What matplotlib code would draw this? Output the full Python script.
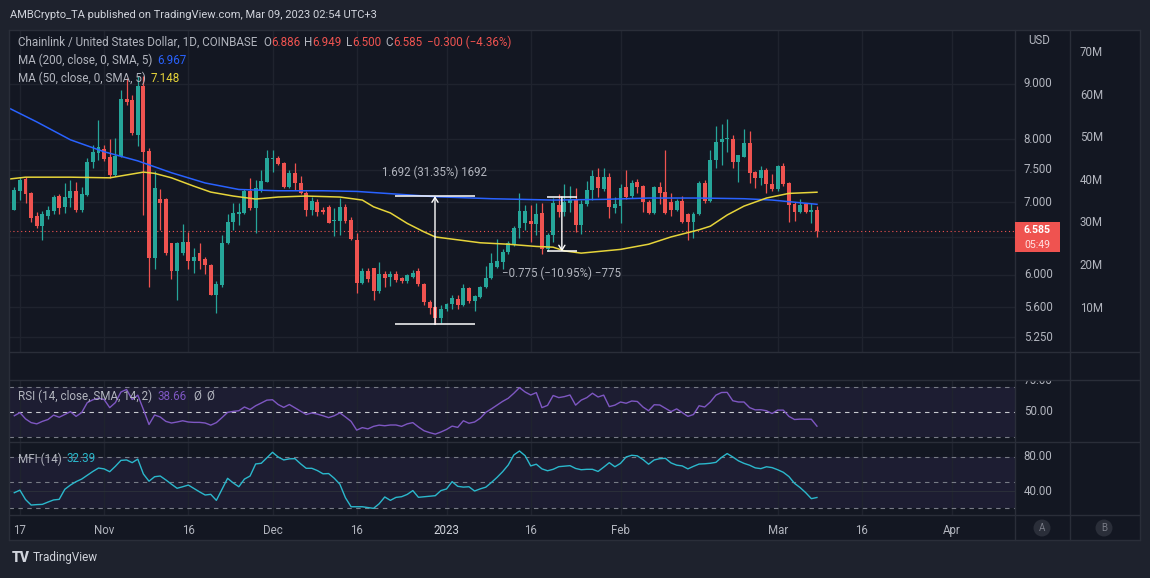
import matplotlib
matplotlib.use("Agg")
import matplotlib.pyplot as plt
import matplotlib.dates as mdates
from matplotlib.lines import Line2D
from matplotlib.patches import Rectangle, Ellipse
from matplotlib.ticker import NullLocator
import pandas as pd

plt.rcParams['font.family'] = ['Roboto', 'DejaVu Sans']

# ---------------- data ----------------
start = "2022-10-16"

opens = [6.88, 7.16, 7.35, 7.13, 6.80, 6.65, 6.80, 6.87, 7.09, 6.93,
         7.06, 7.16, 6.88, 7.10, 7.63, 7.77, 7.83, 7.70, 7.42, 7.72,
         8.72, 8.70, 8.08, 8.95, 7.80, 6.21, 7.05, 7.04, 6.41, 6.05,
         6.28, 6.43, 6.17, 6.28, 6.20, 6.13, 5.75, 5.87, 6.41, 6.71,
         6.83, 6.84, 7.16, 6.91, 7.16, 7.31, 7.67, 7.69, 7.61, 7.23,
         7.44, 7.29, 7.13, 6.88, 7.00, 6.88, 6.93, 6.72, 6.72, 6.93,
         6.74, 6.46, 5.89, 6.04, 6.08, 5.79, 6.01, 5.97, 6.01, 5.96,
         5.92, 5.97, 6.04, 5.88, 5.66, 5.60, 5.47, 5.58, 5.64, 5.70,
         5.62, 5.83, 5.67, 5.72, 5.84, 5.96, 6.10, 6.16, 6.29, 6.40,
         6.62, 6.70, 6.72, 6.68, 6.84, 6.33, 6.53, 6.96, 6.85, 6.99,
         7.03, 6.66, 6.97, 7.18, 7.38, 7.20, 7.38, 6.91, 6.94, 7.23,
         7.09, 7.30, 7.24, 7.00, 6.84, 7.23, 7.15, 7.00, 6.88, 7.01,
         6.82, 6.71, 6.82, 7.29, 7.01, 7.65, 7.96, 8.00, 8.01, 7.62,
         7.71, 7.93, 7.46, 7.37, 7.50, 7.28, 7.20, 7.55, 7.29, 6.97,
         6.85, 6.97, 6.85, 6.886]
highs = [7.22, 7.39, 7.38, 7.15, 6.85, 6.87, 6.94, 7.10, 7.12, 7.29,
         7.34, 7.30, 7.23, 7.68, 7.91, 8.33, 7.91, 8.00, 8.02, 8.89,
         9.12, 8.78, 9.16, 9.16, 7.86, 7.48, 7.20, 7.06, 6.42, 6.43,
         6.68, 6.57, 6.35, 6.41, 6.23, 6.14, 5.92, 6.52, 6.82, 6.99,
         6.99, 7.20, 7.37, 7.33, 7.50, 7.82, 7.82, 7.72, 7.62, 7.50,
         7.60, 7.40, 7.16, 7.08, 7.05, 6.92, 6.95, 6.91, 7.06, 6.97,
         6.78, 6.56, 6.08, 6.09, 6.09, 6.16, 6.05, 6.05, 6.04, 5.97,
         6.01, 6.06, 6.08, 5.90, 5.69, 5.61, 5.62, 5.65, 5.74, 5.74,
         5.88, 5.85, 5.74, 5.86, 6.11, 6.28, 6.47, 6.34, 6.44, 6.65,
         7.13, 6.96, 6.96, 6.99, 6.99, 6.55, 7.06, 7.12, 7.27, 7.24,
         7.21, 7.03, 7.32, 7.50, 7.53, 7.52, 7.44, 7.08, 7.28, 7.49,
         7.34, 7.35, 7.26, 7.03, 7.25, 7.30, 7.82, 7.14, 7.04, 7.09,
         6.84, 6.85, 7.32, 7.33, 7.82, 8.22, 8.26, 8.36, 8.07, 7.74,
         8.17, 8.14, 7.48, 7.55, 7.52, 7.43, 7.57, 7.60, 7.30, 7.00,
         7.04, 6.99, 6.99, 6.949]
lows = [6.88, 7.03, 6.99, 6.71, 6.62, 6.46, 6.75, 6.82, 6.82, 6.84,
        6.93, 6.85, 6.85, 7.09, 7.52, 7.65, 7.64, 7.37, 7.40, 7.70,
        8.60, 8.08, 7.89, 6.81, 5.85, 6.07, 6.60, 6.25, 5.95, 5.69,
        6.25, 6.07, 6.02, 6.07, 6.01, 5.74, 5.53, 5.85, 6.40, 6.60,
        6.67, 6.82, 6.88, 6.56, 7.15, 7.30, 7.46, 7.58, 7.21, 7.21,
        7.18, 7.12, 6.79, 6.81, 6.80, 6.83, 6.69, 6.51, 6.52, 6.69,
        6.46, 5.77, 5.88, 5.91, 5.69, 5.77, 5.85, 5.86, 5.91, 5.90,
        5.90, 5.96, 5.86, 5.63, 5.52, 5.40, 5.41, 5.55, 5.58, 5.58,
        5.61, 5.65, 5.55, 5.71, 5.83, 5.95, 6.09, 6.07, 6.27, 6.38,
        6.48, 6.60, 6.43, 6.52, 6.27, 6.31, 6.43, 6.78, 6.80, 6.85,
        6.57, 6.54, 6.94, 7.03, 7.08, 7.16, 6.77, 6.84, 6.70, 7.05,
        7.06, 7.14, 6.85, 6.82, 6.82, 6.97, 6.82, 6.80, 6.87, 6.69,
        6.46, 6.48, 6.81, 6.98, 7.00, 7.52, 7.58, 7.78, 7.52, 7.30,
        7.70, 7.29, 7.21, 7.26, 7.14, 7.17, 7.17, 7.24, 6.71, 6.72,
        6.84, 6.84, 6.70, 6.500]
closes = [7.18, 7.34, 7.12, 6.77, 6.65, 6.82, 6.88, 7.07, 6.91, 7.07,
          7.16, 6.88, 7.12, 7.63, 7.78, 7.87, 7.67, 7.42, 7.72, 8.72,
          8.66, 8.10, 8.95, 7.79, 6.21, 7.21, 6.98, 6.28, 6.05, 6.41,
          6.43, 6.17, 6.23, 6.17, 6.12, 5.75, 5.88, 6.41, 6.71, 6.84,
          6.86, 7.16, 6.91, 7.21, 7.32, 7.68, 7.69, 7.59, 7.23, 7.45,
          7.29, 7.14, 6.88, 7.01, 6.86, 6.85, 6.70, 6.74, 6.93, 6.72,
          6.47, 5.89, 6.04, 5.95, 5.79, 6.01, 5.96, 6.01, 5.93, 5.92,
          6.00, 6.02, 5.88, 5.66, 5.59, 5.47, 5.58, 5.64, 5.71, 5.62,
          5.83, 5.67, 5.73, 5.84, 5.96, 6.15, 6.17, 6.30, 6.41, 6.63,
          6.87, 6.87, 6.68, 6.82, 6.34, 6.53, 6.98, 6.85, 7.00, 7.03,
          6.66, 6.97, 7.18, 7.40, 7.21, 7.38, 6.93, 6.97, 7.21, 7.07,
          7.29, 7.23, 7.00, 6.84, 7.23, 7.13, 6.84, 6.88, 7.01, 6.71,
          6.71, 6.82, 7.29, 7.01, 7.65, 7.96, 8.01, 8.02, 7.63, 7.73,
          7.93, 7.45, 7.37, 7.50, 7.28, 7.20, 7.55, 7.28, 6.96, 6.85,
          6.96, 6.85, 6.885, 6.585]

# moving averages (day offset from start, value)
ma200_day = [-1, 4, 10, 16, 22, 28, 34, 40, 47, 55, 61, 68, 75, 85, 96,
             105, 113, 122, 130, 135, 140, 143]
ma200_val = [8.55, 8.30, 7.99, 7.79, 7.64, 7.45, 7.29, 7.19, 7.17, 7.17,
             7.16, 7.12, 7.08, 7.05, 7.03, 7.04, 7.06, 7.06, 7.05, 7.03,
             6.99, 6.967]
ma50_day = [-1, 2, 10, 17, 19, 23, 25, 28, 32, 35, 39, 43, 47, 52, 58, 62,
            64, 67, 70, 73, 75, 79, 83, 88, 93, 96, 98, 101, 108, 113, 117,
            122, 124, 127, 130, 134, 138, 143]
ma50_val = [7.35, 7.38, 7.38, 7.37, 7.40, 7.46, 7.44, 7.37, 7.24, 7.15,
            7.09, 7.045, 7.075, 7.09, 7.075, 7.03, 6.93, 6.84, 6.69, 6.57,
            6.50, 6.46, 6.42, 6.40, 6.37, 6.36, 6.31, 6.28, 6.33, 6.40,
            6.50, 6.60, 6.65, 6.81, 6.94, 7.06, 7.13, 7.148]

rsi = [47, 49.5, 44.5, 41.5, 40.5, 42.5, 44, 47.5, 45.8, 48,
       50.3, 46.5, 49.5, 57.5, 59.8, 61, 60, 53.5, 57.5, 66,
       68, 60, 63.5, 52, 40, 47.6, 46, 42.5, 41.2, 42,
       43, 42, 41.7, 41.7, 41.2, 39.5, 41.5, 45.5, 49.7, 50.5,
       51, 54, 52, 55, 57.2, 59.5, 59.8, 56, 53.7, 56,
       53.3, 50.5, 48, 49.2, 48.3, 47, 45.5, 47, 49.3, 46,
       42.5, 35.5, 37.5, 36.5, 38.5, 39.5, 39, 39.6, 39.6, 38.5,
       40.5, 41.5, 38, 35, 33.5, 32.3, 34, 36, 38.7, 37.7,
       43, 41, 42, 45, 49.7, 52.5, 55.5, 58.5, 61, 65,
       69.5, 66, 63.6, 65.5, 53.5, 55.3, 63.2, 61.5, 62.3, 63.6,
       55.5, 59.5, 61.5, 65, 62, 63.5, 54.3, 55.5, 58, 57,
       58.8, 58.4, 54, 51, 55.8, 55.6, 53, 50.3, 52.5, 49.5,
       46.5, 48, 55, 54, 58, 63.5, 65.6, 65.7, 59, 58,
       58, 53.5, 51.7, 51.8, 51, 48.8, 51.5, 51.5, 46.5, 44,
       44.3, 44.3, 44.2, 38.66]
mfi = [38, 41, 30, 23.5, 24, 24.3, 27, 29.5, 30.2, 42,
       47, 51, 54, 58.5, 63, 67, 66, 62.7, 69, 76,
       76.5, 73.3, 77.5, 60, 51.5, 56.8, 57.6, 53, 48, 43.2,
       45, 47, 43, 39, 35.3, 36.1, 29, 42, 54.9, 49.5,
       45, 54, 57.6, 71.8, 72.6, 79, 85.5, 80, 76.5, 77.8,
       78, 72, 66.7, 66.7, 64, 60.2, 60.5, 55, 48, 32,
       21.5, 21.5, 21.5, 20.5, 19.6, 25, 33, 29, 32.5, 33.3,
       36, 40.5, 32.6, 33.2, 33.8, 34.5, 40.5, 42.4, 51, 45.5,
       44.6, 45, 40, 42.5, 44.5, 50, 56, 62.7, 70.6, 82.4,
       87, 81.5, 69.5, 71.5, 66, 63.8, 65.5, 68.6, 69.2, 69.8,
       66.5, 65, 65.5, 65.5, 63, 68, 73.3, 68.5, 72.5, 80,
       82, 81.3, 77, 71.5, 76.5, 78, 78.4, 73, 70.4, 69.5,
       66, 69, 71.7, 72, 72.6, 73.7, 79.5, 84, 80, 75.5,
       72.5, 70.3, 67.2, 66.3, 68.5, 67.5, 65, 62, 57, 49,
       44, 38, 31, 32.39]

# price range measurements (day offsets and prices)
rng1_days = [67.8, 82.1]
rng1_prices = [5.397, 7.089]
rng2_days = [94.9, 100.2]
rng2_prices = [7.078, 6.303]

price_ticks = [5.25, 5.6, 6.0, 6.5, 7.0, 7.5, 8.0, 9.0]
price_labels = ["5.250", "5.600", "6.000", "", "7.000", "7.500", "8.000", "9.000"]
vol_ticks = [10, 20, 30, 40, 50, 60, 70]
date_ticks = ["2022-10-17", "2022-11-01", "2022-11-16", "2022-12-01", "2022-12-16",
              "2023-01-01", "2023-01-16", "2023-02-01", "2023-03-01", "2023-03-16",
              "2023-04-01"]
date_labels = ["17", "Nov", "16", "Dec", "16", "2023", "16", "Feb", "Mar", "16", "Apr"]

# ---------------- style ----------------
W, H = 1150, 578
BG_OUT = "#1e222d"
BG = "#131722"
GRID = "#1f232e"
LINE = "#2a2e39"
TXT = "#b2b5be"
UP = "#26a69a"
DN = "#ef5350"
BLUE = "#2962ff"
YEL = "#e6d43a"
RSI_C = "#7e57c2"
MFI_C = "#2bb8cc"
FS = 8.4     # legend text
FS_AX = 8.3  # scale text


def box(x0, y0, x1, y1):
    return [x0 / W, 1 - y1 / H, (x1 - x0) / W, (y1 - y0) / H]


fig = plt.figure(figsize=(W / 100, H / 100), dpi=100, facecolor=BG_OUT)
fig.add_artist(Rectangle((9 / W, 1 - 540 / H), 1131 / W, 510 / H,
                         transform=fig.transFigure, facecolor=BG, lw=0, zorder=-5))

t0 = pd.Timestamp(start)
d0 = mdates.date2num(t0)
xs = [d0 + i for i in range(len(closes))]
xlim = (d0 - 0.944, d0 + 178.28)
tick_x = mdates.date2num(pd.to_datetime(date_ticks))


def pane(y0, y1, share=None):
    ax = fig.add_axes(box(9, y0, 1015, y1), sharex=share)
    ax.set_facecolor(BG)
    for s in ax.spines.values():
        s.set_visible(False)
    ax.tick_params(length=0, labelleft=False, labelbottom=False)
    return ax


ax = pane(30, 352)
ax_gap = pane(352, 380, ax)
ax_rsi = pane(380, 442, ax)
ax_mfi = pane(442, 515, ax)
ax.set_xlim(*xlim)
ax.set_xticks(tick_x)
for a in (ax, ax_rsi, ax_mfi):
    a.grid(axis="x", color=GRID, lw=1)
ax_gap.grid(False)

# main pane
ax.set_yscale("log")
ax.set_ylim(5.09, 10.09)
ax.set_yticks(price_ticks)
ax.yaxis.set_minor_locator(NullLocator())
ax.grid(axis="y", color=GRID, lw=1)
ax.set_yticklabels([])

cols = [UP if c >= o else DN for o, c in zip(opens, closes)]
ax.vlines(xs, lows, highs, colors=cols, lw=0.9, zorder=3)
bottoms = [min(o, c) for o, c in zip(opens, closes)]
heights = [max(abs(c - o), 0.012) for o, c in zip(opens, closes)]
ax.bar(xs, heights, bottom=bottoms, width=0.7, color=cols, lw=0, zorder=4)

ax.plot([d0 + d for d in ma200_day], ma200_val, color=BLUE, lw=1.1, zorder=5)
ax.plot([d0 + d for d in ma50_day], ma50_val, color=YEL, lw=1.1, zorder=5)
ax.axhline(closes[-1], color=DN, lw=0.8, ls=(0, (1, 2.5)), zorder=2)

# measurement tools
for days, prices in ((rng1_days, rng1_prices), (rng2_days, rng2_prices)):
    a0, a1 = d0 + days[0], d0 + days[1]
    mid = (a0 + a1) / 2
    for p in prices:
        ax.hlines(p, a0, a1, color="white", lw=1.1, zorder=6)
    ax.annotate("", xy=(mid, prices[1]), xytext=(mid, prices[0]),
                arrowprops=dict(arrowstyle="->,head_length=0.35,head_width=0.22",
                                color="white", lw=1.0, shrinkA=0, shrinkB=0), zorder=6)
    diff = prices[1] - prices[0]
    pct = diff / prices[0] * 100
    s = f"{diff:.3f} ({pct:.2f}%) {round(diff * 1000)}".replace("-", "\u2212")
    off = 17 if diff > 0 else -16
    ax.annotate(s, xy=(mid, max(prices) if diff > 0 else min(prices)),
                xytext=(0, off), textcoords="offset points", ha="center", va="center",
                color=TXT, fontsize=FS_AX, zorder=7)

# RSI pane
ax_rsi.set_ylim(26, 75.6)
ax_rsi.axhspan(30, 70, color=RSI_C, alpha=0.1, lw=0)
for lvl, c in ((70, "#787b86"), (50, "#c8cad0"), (30, "#787b86")):
    ax_rsi.axhline(lvl, color=c, lw=0.8, ls=(0, (4, 4)))
ax_rsi.plot(xs, rsi, color=RSI_C, lw=1.0)

# MFI pane
ax_mfi.set_ylim(11.8, 97.6)
ax_mfi.axhspan(20, 80, color=RSI_C, alpha=0.1, lw=0)
ax_mfi.axhline(40, color=LINE, lw=0.8)
for lvl in (80, 50, 20):
    ax_mfi.axhline(lvl, color="#787b86", lw=0.8, ls=(0, (4, 4)))
ax_mfi.plot(xs, mfi, color=MFI_C, lw=1.0)

# time axis labels
ax_mfi.tick_params(axis="x", labelbottom=True, labelcolor=TXT, labelsize=FS_AX, pad=6.5)
ax_mfi.set_xticklabels(date_labels)
for lab in ax_mfi.get_xticklabels():
    if lab.get_text() == "2023":
        lab.set_color("#d1d4dc")


# right-hand scales
def scale(y0, y1, ylim, log=False, x0=1015, x1=1070):
    sa = fig.add_axes(box(x0, y0, x1, y1))
    sa.set_facecolor(BG)
    if log:
        sa.set_yscale("log")
    sa.set_ylim(*ylim)
    sa.set_xlim(0, 1)
    sa.set_axis_off()
    return sa


ps = scale(30, 352, ax.get_ylim(), log=True)
for p, lab in zip(price_ticks, price_labels):
    ps.text(0.16, p, lab, transform=ps.get_yaxis_transform(), color=TXT,
            fontsize=FS_AX, va="center", clip_on=True)
vs = scale(30, 352, (-0.35, 75.4), x0=1070, x1=1140)
for v in vol_ticks:
    vs.text(0.14, v, f"{v}M", transform=vs.get_yaxis_transform(), color=TXT,
            fontsize=FS_AX, va="center", clip_on=True)
rs = scale(380, 442, ax_rsi.get_ylim())
for v in (75, 50):
    rs.text(0.16, v, f"{v:.2f}", transform=rs.get_yaxis_transform(), color=TXT,
            fontsize=FS_AX, va="center", clip_on=True)
ms = scale(442, 515, ax_mfi.get_ylim())
for v in (80, 40):
    ms.text(0.16, v, f"{v:.2f}", transform=ms.get_yaxis_transform(), color=TXT,
            fontsize=FS_AX, va="center", clip_on=True)
fig.text(1028 / W, 1 - 41 / H, "USD", color=TXT, fontsize=FS_AX, va="center")

# current price tag
fig.add_artist(Rectangle((1015 / W, 1 - 252 / H), 45 / W, 30 / H,
                         transform=fig.transFigure, facecolor=DN, lw=0, zorder=8))
fig.text(1024 / W, 1 - 230 / H, f"{closes[-1]:.3f}", color="white", fontsize=7.6,
         fontweight="bold", va="center", zorder=9)
fig.text(1024 / W, 1 - 244.5 / H, "05:49", color="#ffe0e0", fontsize=7.6, va="center",
         zorder=9)


# frame lines
def fline(xa, ya, xb, yb):
    fig.add_artist(Line2D([xa / W, xb / W], [1 - ya / H, 1 - yb / H],
                          transform=fig.transFigure, color=LINE, lw=1, zorder=7))


for yy in (30, 352, 380, 442, 515, 540):
    fline(9, yy, 1140, yy)
for xx in (9, 1015, 1070, 1140):
    fline(xx, 30, xx, 540)

# A / B buttons
for xx, s in ((1042, "A"), (1104, "B")):
    fig.add_artist(Ellipse((xx / W, 1 - 528 / H), 17 / W, 17 / H,
                           transform=fig.transFigure, facecolor="#2a2e39", lw=0, zorder=8))
    fig.text(xx / W, 1 - 528 / H, s, color="#787b86", fontsize=7, ha="center",
             va="center", zorder=9)

# header / legends
renderer = fig.canvas.get_renderer()


def text_row(x, y, parts, size=FS):
    for s, col, gap in parts:
        t = fig.text(x / W, 1 - y / H, s, color=col, fontsize=size, va="center", zorder=10)
        x += t.get_window_extent(renderer=renderer).width + gap


fig.text(10 / W, 1 - 15 / H, "AMBCrypto_TA published on TradingView.com, Mar 09, 2023 02:54 UTC+3",
         color="#d1d4dc", fontsize=8.0, va="center")

chg = closes[-1] - closes[-2]
chg_pct = chg / closes[-2] * 100
text_row(18, 42, [("Chainlink / United States Dollar, 1D, COINBASE", TXT, 6),
                  ("O", TXT, 0), (f"{opens[-1]:.3f}", DN, 4),
                  ("H", TXT, 0), (f"{highs[-1]:.3f}", DN, 4),
                  ("L", TXT, 0), (f"{lows[-1]:.3f}", DN, 4),
                  ("C", TXT, 0), (f"{closes[-1]:.3f}", DN, 5),
                  (f"{chg:.3f} ({chg_pct:.2f}%)".replace("-", "\u2212"), DN, 0)])
text_row(18, 60, [("MA (200, close, 0, SMA, 5)", TXT, 5), (f"{ma200_val[-1]:.3f}", BLUE, 0)])
text_row(18, 78, [("MA (50, close, 0, SMA, 5)", TXT, 5), (f"{ma50_val[-1]:.3f}", YEL, 0)])
text_row(18, 396, [("RSI (14, close, SMA, 14, 2)", TXT, 5), (f"{rsi[-1]:.2f}", RSI_C, 7),
                   ("\u00d8", TXT, 5), ("\u00d8", TXT, 0)])
text_row(18, 459, [("MFI (14)", TXT, 5), (f"{mfi[-1]:.2f}", MFI_C, 0)])

# footer logo
fig.text(12 / W, 1 - 558 / H, "TV", color="#d1d4dc", fontsize=10, fontweight="black",
         va="center")
fig.text(33 / W, 1 - 558 / H, "TradingView", color="#d1d4dc", fontsize=8.5, va="center")

fig.savefig("out.png", dpi=100, facecolor=BG_OUT)
